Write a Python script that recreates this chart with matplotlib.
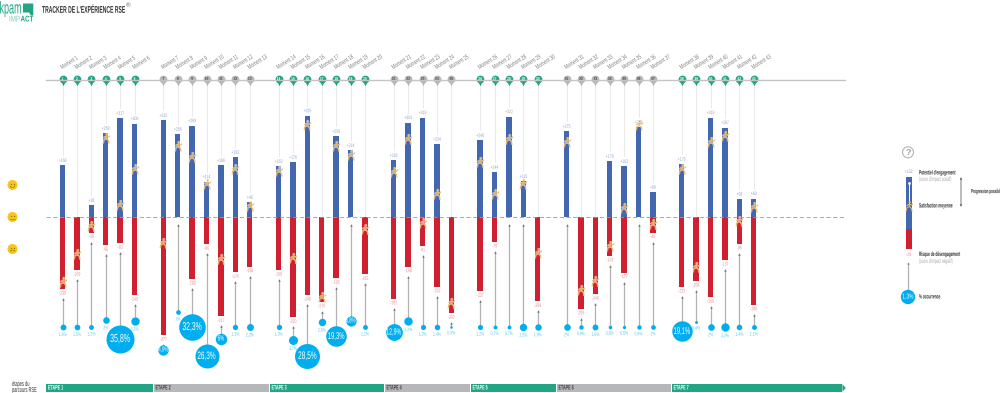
import numpy as np
import matplotlib
matplotlib.use('Agg')
import matplotlib.pyplot as plt
from matplotlib.path import Path
from matplotlib.patches import Circle, Polygon, Rectangle, Arc
from matplotlib.patheffects import AbstractPathEffect
from matplotlib.transforms import Affine2D, Bbox

plt.rcParams['font.family'] = ['Liberation Sans', 'DejaVu Sans']

# Donnees
groups = [6, 7, 7, 5, 5, 7, 6]
potential = [166, 0, 38, 269, 317, 300, 310, 266, 293, 114, 166, 192, 48, 163, 176, 325, 0, 259, 214, 0, 182,
             303, 319, 234, 0, 246, 144, 322, 115, 0, 275, 0, 0, 179, 163, 288, 80, 170, 0, 319, 287, 58, 60]
risk = [-230, -169, -49, -90, -83, -249, -377, 0, -198, -86, -317, -176, -158, -169, -320, -249, -270, -195, 0, -182, -261,
        -158, -91, -222, -307, -237, -79, 0, 0, -269, 0, -293, -246, -123, -177, 0, -49, -223, -204, -256, -137, -85, -280]
satisfaction = [-208, -118, -29, 253, 38, 154, -83, 227, 192, 106, -134, 154, 35, 147, -131, 294, -256, 227, 198, -38, 144,
                250, -19, 74, -275, 176, 74, 250, 106, -115, 240, -234, -205, -93, 29, 294, -22, 154, -160, 240, 259, -11, 32]
occurrence = [1.6, 1.5, 1.1, 2.0, 35.8, 3.2, 4.9, 1.0, 32.3, 26.3, 6.0, 1.3, 2.2, 1.3, 3.7, 28.5, 2.5, 19.3, 4.8, 1.1, 12.9,
              3.2, 1.2, 1.4, 0.3, 1.2, 0.7, 0.7, 2.5, 1.9, 2.0, 0.9, 1.6, 0.6, 0.5, 0.9, 1.0, 19.1, 0.4, 2.0, 3.2, 1.4, 1.1]
# decalage vertical des bulles (pixels), moment -> decalage
bubble_shift = {4: -7, 5: 12, 6: -6.5, 7: 23, 8: -15, 10: 29, 11: 12, 15: 12.5, 16: 29, 17: -5, 18: 9, 19: -6,
                21: 5, 22: -6, 38: 4, 39: -5}
stages = ['ETAPE 1', 'ETAPE 2', 'ETAPE 3', 'ETAPE 4', 'ETAPE 5', 'ETAPE 6', 'ETAPE 7']
stage_edges = [46, 153.5, 269.5, 384.5, 470.5, 556.5, 671.5, 843]

GREEN = '#22a584'
GREY = '#b6b7bb'
BLUE = '#4267ae'
RED = '#d0202f'
CYAN = '#00aeef'
ORANGE = '#e9b566'
UNITS_PER_PX = 3.2
BASE_PX = 217.3
SLOT_PX = 14.4
FIRST_PX = 62.5


# pas de police etroite installee : on resserre le texte a l'affichage
class Narrow(AbstractPathEffect):
    def __init__(self, sx, centered):
        super().__init__()
        self.sx = sx
        self.centered = centered

    def draw_path(self, renderer, gc, tpath, affine, rgbFace=None):
        t = Affine2D()
        if self.centered:
            e = tpath.get_extents()
            mid = (e.x0 + e.x1) / 2
            t = t.translate(-mid, 0).scale(self.sx, 1).translate(mid, 0)
        else:
            t = t.scale(self.sx, 1)
        renderer.draw_path(gc, tpath, t + affine, rgbFace)


def label(axe, x, y, s, sx=0.55, **kw):
    kw.setdefault('va', 'center')
    kw.setdefault('ha', 'left')
    t = axe.text(x, y, s, **kw)
    centered = kw['ha'] == 'center'
    t.set_path_effects([Narrow(sx, centered)])
    if not kw.get('rotation'):
        # la boite du texte suit la largeur reellement dessinee
        full_extent = t.get_window_extent

        def narrow_extent(renderer=None, dpi=None):
            b = full_extent(renderer, dpi)
            x0 = (b.x0 + b.x1 - b.width * sx) / 2 if centered else b.x0
            return Bbox.from_bounds(x0, b.y0, b.width * sx, b.height)
        t.get_window_extent = narrow_extent
    return t


# positions des moments : un creneau vide entre deux groupes
slots = []
colors = []
s = 0
for i, n in enumerate(groups):
    for j in range(n):
        slots.append(s)
        colors.append(i % 2 == 0)
        s += 1
    s += 1
slots = np.array(slots)
potential = np.array(potential)
risk = np.array(risk)
satisfaction = np.array(satisfaction)
occurrence = np.array(occurrence)


def val(px):
    return (BASE_PX - px) * UNITS_PER_PX


def radius(p):
    return np.sqrt(p / 0.183)


def runner_marker():
    lines = [[(-0.1, 0.45), (0.0, 0.0), (-0.45, -0.2), (-0.6, -0.85)],
             [(0.0, 0.0), (0.35, -0.35), (0.45, -0.9)],
             [(-0.1, 0.4), (-0.55, 0.1)],
             [(-0.1, 0.4), (0.4, 0.25), (0.6, 0.5)]]
    verts, codes = [], []
    for l in lines:
        verts += l
        codes += [Path.MOVETO] + [Path.LINETO] * (len(l) - 1)
    head = Path.circle((0.05, 0.72), 0.1)
    return Path.make_compound_path(Path(verts, codes), head)


fig = plt.figure(figsize=(10, 3.93), dpi=100)
ax = fig.add_axes([0, 0, 1, 1])
ax.set_xlim(-FIRST_PX / SLOT_PX, (1000 - FIRST_PX) / SLOT_PX)
ax.set_ylim(val(393), val(0))
ax.axis('off')

ov = fig.add_axes([0, 0, 1, 1])
ov.set_xlim(0, 1000)
ov.set_ylim(393, 0)
ov.axis('off')
ov.patch.set_alpha(0)

# lignes horizontales
ov.plot([46, 845], [79.5, 79.5], color='#c4c4c4', lw=1, zorder=1)
ax.plot([(46 - FIRST_PX) / SLOT_PX, (845 - FIRST_PX) / SLOT_PX], [0, 0], color='#9a9a9a', lw=0.6, dashes=(5, 3), zorder=5)

runner = runner_marker()
w = 5.5 / SLOT_PX
for k, x in enumerate(slots):
    num = k + 1
    top = potential[k]
    bot = risk[k]

    # fil vers le haut de la barre
    end = top + 10 * UNITS_PER_PX if top > 0 else 0
    ax.plot([x, x], [val(84), end], color='#e6e6e6', lw=0.6, zorder=1)

    # epingle
    c = GREEN if colors[k] else GREY
    ax.scatter([x], [val(79)], s=(2 * 3.9 * 0.72) ** 2, color=c, zorder=4, lw=0)
    ax.scatter([x], [val(84)], s=6, color=c, marker='v', zorder=3, lw=0)
    label(ax, x, val(79), str(num), sx=0.8, fontsize=3, color='white' if colors[k] else '#444444',
          ha='center', zorder=5, fontweight='bold')
    label(ax, x - 0.1, val(68), 'Moment %d' % num, sx=0.68, fontsize=4.6, color='#808080', rotation=32,
          rotation_mode='anchor', zorder=5)

    # bulle et fleche
    r = radius(occurrence[k])
    cy = 327 + bubble_shift.get(num, 0)
    tip = BASE_PX - bot / UNITS_PER_PX + 10 if bot < 0 else BASE_PX + 8
    ax.plot([x, x], [val(cy - r), val(tip)], color='#b2b2b2', lw=0.9, zorder=2)
    ax.scatter([x], [val(tip)], s=3, marker='^', color='#707070', lw=0, zorder=3)
    ax.scatter([x], [val(cy)], s=(2 * r * 0.72) ** 2, color=CYAN, lw=0, zorder=4)
    txt = ('%.1f%%' % occurrence[k]).replace('.', ',').replace(',0%', '%')
    if occurrence[k] >= 4.5:
        fs = min(8.5, 3.4 + r * 0.36)
        label(ax, x, val(cy), txt, sx=0.6, color='white', fontsize=fs, ha='center', zorder=5)
    else:
        label(ax, x, val(cy + r + 4.5), txt, sx=0.7, color='#55c5f0', fontsize=3.6, ha='center', zorder=5)

    # etiquettes de valeur
    if top > 0:
        label(ax, x, top + 5 * UNITS_PER_PX, '+%d' % top, sx=0.7, color='#8da3d0', fontsize=3.6, ha='center', zorder=5)
    if bot < 0:
        label(ax, x, bot - 4 * UNITS_PER_PX, '%d' % bot, sx=0.7, color='#e58a90', fontsize=3.6, ha='center', zorder=5)

ax.bar(slots, potential, width=w, color=BLUE, zorder=3)
ax.bar(slots, risk, width=w, color=RED, zorder=3)
ax.plot(slots, satisfaction, ls='none', marker=runner, ms=7.5, mfc='none', mec='white', mew=1.3, alpha=0.5, zorder=6)
ax.plot(slots, satisfaction, ls='none', marker=runner, ms=7.5, mfc='none', mec=ORANGE, mew=0.75, zorder=7)

# etapes du parcours
for i, name in enumerate(stages):
    x0 = stage_edges[i]
    x1 = stage_edges[i + 1]
    green = i % 2 == 0
    col = GREEN if green else GREY
    ov.add_patch(Rectangle((x0, 384.2), x1 - x0 - 0.6, 7.4, color=col, lw=0))
    label(ov, x0 + 2, 388, name, sx=0.58, fontsize=4.6, fontweight='bold', color='white' if green else '#404040')
ov.add_patch(Polygon([(842.4, 384.2), (845.8, 388), (842.4, 391.6)], color=GREEN, lw=0))
label(ov, 12, 384.5, 'étapes du', fontsize=5.2, color='#333333')
label(ov, 12, 390.5, 'parcours RSE', fontsize=5.2, color='#333333')

# smileys
for y, mood in [(185, 1), (217, 0), (249, -1)]:
    ov.add_patch(Circle((12.5, y), 5, color='#f6c51e', lw=0, zorder=3))
    ov.plot([10.8, 14.2], [y - 1.2, y - 1.2], ls='none', marker='o', ms=0.9, color='#8a6d10', mew=0, zorder=4)
    if mood == 0:
        ov.plot([10.3, 14.7], [y + 1.6, y + 1.6], color='#8a6d10', lw=0.4, zorder=4)
    elif mood > 0:
        ov.add_patch(Arc((12.5, y + 0.8), 5, 3, theta1=0, theta2=180, color='#8a6d10', lw=0.4, zorder=4))
    else:
        ov.add_patch(Arc((12.5, y + 2.6), 5, 3, theta1=180, theta2=360, color='#8a6d10', lw=0.4, zorder=4))

# logo et titre
label(ov, -0.5, 9, 'kpam', sx=0.52, fontsize=12.5, color=GREEN)
ov.add_patch(Polygon([(23, 3.5), (33.3, 3.5), (33.3, 15.5), (31, 15.5), (29, 12.5), (23, 12.5)], color=GREEN, lw=0))
label(ov, 9, 20, 'IMP', sx=0.75, fontsize=6, color='#7fd0ba')
label(ov, 20.5, 20, 'ACT', sx=0.75, fontsize=6, color=GREEN, fontweight='bold')
label(ov, 42, 9.8, "TRACKER DE L'EXPÉRIENCE RSE", sx=0.52, fontsize=7, fontweight='bold', color='#333333')
ov.text(125.5, 6, '®', fontsize=4.5, color='#555555', va='center', ha='left')

# legende
ov.add_patch(Circle((908, 152.3), 5.5, fc='white', ec='#b5b5b5', lw=0.8))
ov.text(908, 152.3, '?', fontsize=6.5, fontweight='bold', color='#a0a0a0', ha='center', va='center')
ov.add_patch(Rectangle((905.7, 177), 6, 52, color=BLUE, lw=0))
ov.add_patch(Rectangle((905.7, 229), 6, 20, color=RED, lw=0))
label(ov, 908.5, 171.5, '+132', sx=0.7, color='#8da3d0', fontsize=3.6, ha='center')
label(ov, 908.5, 254.5, '-29', sx=0.7, color='#e58a90', fontsize=3.6, ha='center')
ov.plot([908.5, 908.5], [183, 204], color='white', lw=0.7, zorder=4)
ov.plot([908.5], [183], marker='o', ms=2, color='white', mew=0, zorder=4)
ov.plot([908.5], [206], marker=runner, ms=7.5, mfc='none', mec=ORANGE, mew=0.75, zorder=5)
ov.plot([908, 908], [264, 290], color='#b2b2b2', lw=0.9)
ov.plot([908], [263], marker='^', ms=1.6, color='#707070', mew=0)
ov.add_patch(Circle((908, 297), 7.2, color=CYAN, lw=0, zorder=3))
label(ov, 908, 297, '1,3%', sx=0.7, color='white', fontsize=5, ha='center', zorder=4)
for y, t, col, fw in [(173, "Potentiel d'engagement", '#333333', 'bold'),
                      (179.5, "(score d'impact positif)", '#aaaaaa', 'normal'),
                      (206, 'Satisfaction moyenne', '#333333', 'bold'),
                      (254.5, 'Risque de désengagement', '#333333', 'bold'),
                      (261.5, "(score d'impact négatif)", '#aaaaaa', 'normal'),
                      (297, '% occurrence', '#333333', 'bold')]:
    label(ov, 919, y, t, sx=0.52, fontsize=4.5, color=col, fontweight=fw)
ov.annotate('', xy=(961, 177), xytext=(961, 207),
            arrowprops=dict(arrowstyle='<|-|>', color='#777777', lw=0.7, mutation_scale=2.5, shrinkA=0, shrinkB=0))
label(ov, 971, 191.6, 'Progression possible', sx=0.5, fontsize=4.3, fontweight='bold', color='#333333')

fig.savefig('out.png', dpi=100, facecolor='white')
